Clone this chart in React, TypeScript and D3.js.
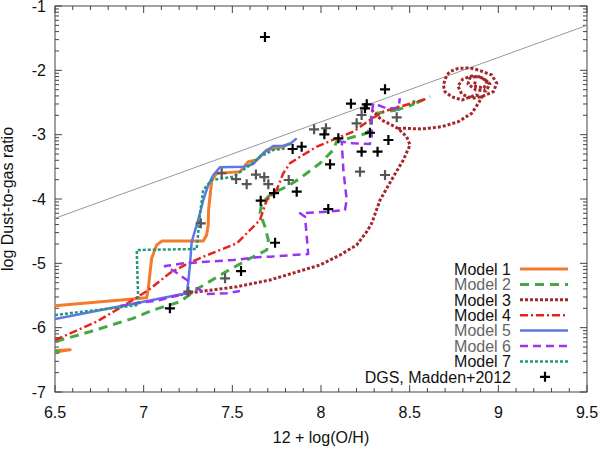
import React, {useEffect, useRef} from "react";
import * as d3 from "d3";

type Pt = [number, number];
const GAP: Pt = [NaN, NaN];

// model tracks, 12+log(O/H) vs log D/G
const model1: Pt[] = [
    [6.45, -6.36], [6.585, -6.345], [6.45, -6.40], [6.45, -5.68],
    [6.5, -5.66], [7.017, -5.535], [7.026, -5.39], [7.045, -4.922], [7.073, -4.715],
    [7.102, -4.654], [7.336, -4.654], [7.355, -4.56], [7.364, -4.404], [7.366, -4.171],
    [7.384, -3.705], [7.412, -3.601], [7.47, -3.59], [7.543, -3.576], [7.59, -3.42],
    [7.637, -3.394], [7.666, -3.316], [7.694, -3.238], [7.741, -3.212], [7.787, -3.187],
    [7.825, -3.134],
];
const model2: Pt[] = [
    [6.45, -6.43], [6.53, -6.38], [6.45, -6.33], [6.45, -6.23],
    [6.5, -6.218], [6.697, -6.063], [6.94, -5.855], [7.053, -5.726], [7.205, -5.597],
    [7.308, -5.388], [7.449, -5.155], [7.6, -4.922], [7.694, -4.793], [7.703, -4.638],
    [7.684, -4.431], [7.656, -4.222], [7.666, -4.067], [7.722, -3.912], [7.807, -3.809],
    [7.882, -3.678], [7.994, -3.445], [8.069, -3.238], [8.088, -3.109], [8.154, -3.057],
    [8.258, -2.979], [8.276, -2.901], [8.286, -2.668], [8.314, -2.668], [8.42, -2.62],
    [8.426, -2.513], [8.436, -2.61], [8.52, -2.53], [8.527, -2.43], [8.545, -2.5],
    [8.615, -2.41],
];
const model3: Pt[] = [
    [7.177, -5.508], [7.243, -5.466], [7.525, -5.364], [7.712, -5.259], [7.9, -5.104],
    [7.994, -5.026], [8.107, -4.871], [8.201, -4.715], [8.258, -4.508], [8.286, -4.378],
    [8.333, -4.016], [8.408, -3.654], [8.464, -3.394], [8.502, -3.161], [8.483, -3.032],
    [8.434, -2.904], [8.399, -2.85], [8.342, -2.772], [8.286, -2.617], GAP,
    [8.434, -2.904], [8.474, -2.901], [8.568, -2.912], [8.681, -2.876], [8.774, -2.799],
    [8.85, -2.668], [8.887, -2.513], [8.908, -2.415], [8.874, -2.383], [8.795, -2.461],
    [8.737, -2.41], [8.699, -2.332], [8.69, -2.228], [8.709, -2.073], [8.727, -2.021],
    [8.774, -1.968], [8.84, -1.964], [8.887, -1.995], [8.963, -2.073], [8.991, -2.202],
    [8.972, -2.332], [8.906, -2.41], [8.85, -2.435], [8.793, -2.368], [8.772, -2.244],
    [8.8, -2.135], [8.851, -2.088], [8.913, -2.119], [8.953, -2.213], [8.93, -2.321],
    [8.874, -2.306], [8.829, -2.213], [8.84, -2.119], [8.885, -2.088], [8.936, -2.166],
    [8.919, -2.275], [8.862, -2.244], [8.874, -2.15],
];
const model4: Pt[] = [
    [6.5, -6.192], [6.735, -5.907], [6.904, -5.63], [7.025, -5.42], [7.149, -5.148],
    [7.243, -5.011], [7.336, -4.897], [7.525, -4.689], [7.656, -4.327], [7.694, -4.016],
    [7.75, -3.86], [7.787, -3.601], [7.825, -3.445], [7.882, -3.343], [7.976, -3.187],
    [8.088, -3.057], [8.182, -2.954], [8.276, -2.772], [8.351, -2.643], [8.445, -2.565],
    [8.605, -2.435],
];
const model5: Pt[] = [
    [6.5, -5.866], [7.243, -5.466], [7.252, -5.28], [7.261, -5.026], [7.271, -4.664],
    [7.299, -4.404], [7.318, -4.218], [7.336, -4.016], [7.364, -3.783], [7.393, -3.627],
    [7.43, -3.507], [7.562, -3.498], [7.618, -3.456], [7.675, -3.285], [7.731, -3.176],
    [7.787, -3.172], [7.825, -3.145], [7.863, -3.057],
];
const model6: Pt[] = [
    [6.867, -5.663], [7.092, -5.57], [7.243, -5.461], [7.301, -5.384], [7.352, -5.477],
    [7.468, -5.466], [7.543, -5.43], GAP,
    [7.252, -5.275], [7.177, -5.13], [7.12, -5.042], [7.224, -5.0], [7.355, -4.975],
    [7.505, -4.948], [7.637, -4.907], [7.712, -4.897], [7.928, -4.855], [7.91, -4.275],
    [7.882, -4.222], [8.032, -4.198], [8.135, -4.171], [8.145, -4.016], [8.126, -3.549],
    [8.117, -3.109], [8.182, -3.134], [8.276, -3.145], [8.286, -3.032], [8.286, -2.668],
    [8.295, -2.513], [8.37, -2.59], [8.436, -2.59], [8.445, -2.435],
];
const model7: Pt[] = [
    [6.5, -5.803], [6.97, -5.648], [6.961, -4.793], [7.299, -4.777], [7.318, -4.218],
    [7.336, -3.86], [7.384, -3.705], [7.449, -3.678], [7.505, -3.654], [7.6, -3.472],
    [7.656, -3.343], [7.731, -3.238], [7.807, -3.212],
];

// DGS galaxies (Madden+2012)
const dgsBlack: Pt[] = [
    [7.684, -1.482], [8.361, -2.295], [8.169, -2.519], [8.258, -2.528], [8.248, -2.59],
    [8.019, -2.995], [8.276, -2.97], [8.098, -3.057], [8.38, -3.083], [7.891, -3.187],
    [8.229, -3.265], [8.319, -3.265], [8.051, -3.461], [8.041, -4.156], [7.84, -3.223],
    [7.863, -3.886], [7.735, -3.91], [7.66, -4.026], [7.741, -4.68], [7.549, -5.12],
    [7.148, -5.7],
];
const dgsGray: Pt[] = [
    [8.229, -2.694], [8.427, -2.73], [8.201, -2.824], [7.961, -2.917], [8.028, -2.9],
    [8.22, -3.575], [8.361, -3.627], [7.44, -3.6], [7.521, -3.69], [7.581, -3.77],
    [7.633, -3.62], [7.68, -3.66], [7.703, -3.77], [7.818, -3.705], [7.322, -4.378],
    [7.459, -5.233], [7.252, -5.44],
];

// reference line
const refLine: Pt[] = [[6.5, -4.3], [9.5, -1.3]];

const xTicks = [6.5, 7, 7.5, 8, 8.5, 9, 9.5];
const yTicks = [-7, -6, -5, -4, -3, -2, -1];
const legendLabels = ["Model 1", "Model 2", "Model 3", "Model 4", "Model 5", "Model 6", "Model 7"];
const dgsLabel = "DGS, Madden+2012";

const styles = [
    {color: "#f47b2c", dash: null, width: 3, text: "#111"},
    {color: "#45a845", dash: "9,6", width: 3, text: "#666"},
    {color: "#a3282c", dash: "3,2", width: 3, text: "#111"},
    {color: "#e8221c", dash: "8,3,2,3", width: 2.5, text: "#111"},
    {color: "#5b78e8", dash: null, width: 2.5, text: "#666"},
    {color: "#9a34f0", dash: "8,5", width: 2.5, text: "#666"},
    {color: "#1f9a7c", dash: "3,2", width: 2.5, text: "#111"},
];
const models = [model1, model2, model3, model4, model5, model6, model7];

const W = 600;
const H = 450;
const margin = {top: 6, right: 13, bottom: 58, left: 55};
const font = "'Liberation Sans', Arial, sans-serif";

const App: React.FC = () => {
    const svgRef = useRef<SVGSVGElement | null>(null);

    useEffect(() => {
        const svg = d3.select(svgRef.current);
        svg.selectAll("*").remove();

        const x = d3.scaleLinear().domain([6.5, 9.5]).range([margin.left, W - margin.right]);
        const y = d3.scaleLinear().domain([-7, -1]).range([H - margin.bottom, margin.top]);
        const [x0, x1] = x.range();
        const [y0, y1] = y.range();

        svg.append("defs").append("clipPath").attr("id", "plotClip")
            .append("rect")
            .attr("x", x0).attr("y", y1).attr("width", x1 - x0).attr("height", y0 - y1);

        // frame + ticks (gnuplot style, inward on all sides)
        const axis = svg.append("g").attr("stroke", "#444").attr("stroke-width", 1);
        axis.append("rect")
            .attr("x", x0).attr("y", y1).attr("width", x1 - x0).attr("height", y0 - y1)
            .attr("fill", "none");

        const xMinor = x.ticks(30);
        xMinor.forEach(v => {
            const major = xTicks.some(t => Math.abs(t - v) < 1e-6);
            const len = major ? 7 : 4;
            axis.append("line").attr("x1", x(v)).attr("x2", x(v)).attr("y1", y0).attr("y2", y0 - len);
            axis.append("line").attr("x1", x(v)).attr("x2", x(v)).attr("y1", y1).attr("y2", y1 + len);
        });

        const yMinor: number[] = [];
        yTicks.slice(0, -1).forEach(n => d3.range(2, 10).forEach(k => yMinor.push(n + Math.log10(k))));
        yMinor.forEach(v => {
            axis.append("line").attr("x1", x0).attr("x2", x0 + 4).attr("y1", y(v)).attr("y2", y(v));
            axis.append("line").attr("x1", x1).attr("x2", x1 - 4).attr("y1", y(v)).attr("y2", y(v));
        });
        yTicks.forEach(v => {
            axis.append("line").attr("x1", x0).attr("x2", x0 + 7).attr("y1", y(v)).attr("y2", y(v));
            axis.append("line").attr("x1", x1).attr("x2", x1 - 7).attr("y1", y(v)).attr("y2", y(v));
        });

        // tick labels
        svg.append("g").selectAll("text").data(xTicks).join("text")
            .attr("x", d => x(d)).attr("y", y0 + 26)
            .attr("text-anchor", "middle")
            .attr("font-family", font).attr("font-size", 16).attr("fill", "#111")
            .text(d => String(d));
        svg.append("g").selectAll("text").data(yTicks).join("text")
            .attr("x", x0 - 9).attr("y", d => y(d)).attr("dy", "0.36em")
            .attr("text-anchor", "end")
            .attr("font-family", font).attr("font-size", 16).attr("fill", "#111")
            .text(d => String(d));

        // axis titles
        svg.append("text")
            .attr("x", (x0 + x1) / 2).attr("y", 443)
            .attr("text-anchor", "middle")
            .attr("font-family", font).attr("font-size", 16).attr("fill", "#111")
            .text("12 + log(O/H)");
        svg.append("text")
            .attr("transform", `translate(13,${(y0 + y1) / 2}) rotate(-90)`)
            .attr("text-anchor", "middle")
            .attr("font-family", font).attr("font-size", 16).attr("fill", "#111")
            .text("log Dust-to-gas ratio");

        const plot = svg.append("g").attr("clip-path", "url(#plotClip)");

        const line = d3.line<Pt>()
            .defined(d => !isNaN(d[0]))
            .x(d => x(d[0]))
            .y(d => y(d[1]));

        plot.append("path")
            .attr("d", line(refLine))
            .attr("fill", "none").attr("stroke", "#999").attr("stroke-width", 1);

        models.forEach((m, i) => {
            const s = styles[i];
            plot.append("path")
                .attr("d", line(m))
                .attr("fill", "none")
                .attr("stroke", s.color)
                .attr("stroke-width", s.width)
                .attr("stroke-dasharray", s.dash)
                .attr("stroke-linejoin", "round");
        });

        const cross = "M-5,0H5M0,-5V5";
        [[dgsGray, "#555"], [dgsBlack, "#000"]].forEach(([pts, c]) => {
            plot.append("g").selectAll("path").data(pts as Pt[]).join("path")
                .attr("d", cross)
                .attr("transform", d => `translate(${x(d[0])},${y(d[1])})`)
                .attr("stroke", c as string).attr("stroke-width", 2.2);
        });

        // legend
        const lg = svg.append("g");
        const rowY = (i: number) => 269 + i * 15.4;
        legendLabels.forEach((lab, i) => {
            const s = styles[i];
            lg.append("text")
                .attr("x", 511).attr("y", rowY(i)).attr("dy", "0.36em")
                .attr("text-anchor", "end")
                .attr("font-family", font).attr("font-size", 16).attr("fill", s.text)
                .text(lab);
            lg.append("line")
                .attr("x1", 520).attr("x2", 568).attr("y1", rowY(i)).attr("y2", rowY(i))
                .attr("stroke", s.color).attr("stroke-width", s.width)
                .attr("stroke-dasharray", s.dash);
        });
        lg.append("text")
            .attr("x", 511).attr("y", rowY(7)).attr("dy", "0.36em")
            .attr("text-anchor", "end")
            .attr("font-family", font).attr("font-size", 16).attr("fill", "#111")
            .text(dgsLabel);
        lg.append("path")
            .attr("d", cross)
            .attr("transform", `translate(545,${rowY(7)})`)
            .attr("stroke", "#000").attr("stroke-width", 2.2);
    }, []);

    return <svg ref={svgRef} width={W} height={H}
                style={{position: "absolute", left: 0, top: 0, background: "#fff"}}/>;
};

export default App;
